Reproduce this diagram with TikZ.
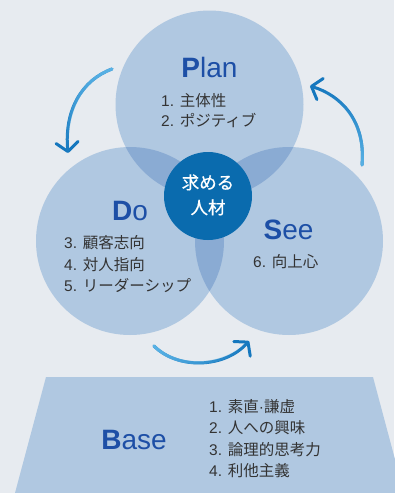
\documentclass[tikz,border=0pt]{standalone}
\usepackage{fontspec}
\setmainfont{Liberation Sans}
\newfontfamily\cjk{Noto Sans CJK JP}
\newfontfamily\cjkmid[FakeBold=0.6]{Noto Sans CJK JP}
\usetikzlibrary{arrows.meta,fadings}
\definecolor{bgcol}{HTML}{E7EBF0}
\definecolor{circcol}{HTML}{B0C8E1}
\definecolor{overcol}{HTML}{8AABD3}
\definecolor{corecol}{HTML}{0A6BAE}
\definecolor{headcol}{HTML}{1D4FA6}
\definecolor{itemcol}{HTML}{333333}
\definecolor{arrdark}{HTML}{1577BE}
\definecolor{arrlight}{HTML}{5AB3E6}
\tikzset{
  bubble/.style={circle, fill=circcol, draw=none, inner sep=0pt, minimum size=188pt},
  core/.style={circle, fill=corecol, draw=none, inner sep=0pt, minimum size=88pt},
  heading/.style={anchor=base, text=headcol, inner sep=0pt, font=\fontsize{28}{30}\selectfont},
  item/.style={anchor=base west, text=itemcol, inner sep=0pt, font=\fontsize{15.5}{18}\selectfont},
  coretext/.style={anchor=base, text=white, inner sep=0pt, font=\cjkmid\fontsize{17.5}{20}\selectfont},
  cycarrow/.style={draw=arrdark, line width=3pt, line cap=round,
     -{Straight Barb[length=9pt,width=22pt,round]}},
  cycfade/.style={draw=arrlight, line width=3pt, line cap=round}
}
\begin{document}
\begin{tikzpicture}[x=1pt,y=-1pt]
\useasboundingbox (0,0) rectangle (394,493);
\fill[bgcol] (0,0) rectangle (394,493);
% base trapezoid
\fill[circcol] (46,377) -- (373,377) -- (404,493) -- (15,493) -- cycle;
% circles
\node[bubble] (plan) at (209.5,104.5) {};
\node[bubble] (do) at (130,241) {};
\node[bubble] (see) at (289,241) {};
\begin{scope}
  \clip (plan.center) circle (94pt);
  \fill[overcol] (do.center) circle (94pt);
  \fill[overcol] (see.center) circle (94pt);
\end{scope}
\begin{scope}
  \clip (do.center) circle (94pt);
  \fill[overcol] (see.center) circle (94pt);
\end{scope}
\node[core] (core) at (208,196) {};
\node[coretext] (core1) at (208,189) {求める};
\node[coretext] (core2) at (208,214) {人材};
% headings
\node[heading] (planh) at (209.5,77) {\textbf{P}lan};
\node[heading] (doh) at (130,220) {\textbf{D}o};
\node[heading] (seeh) at (288.5,239) {\textbf{S}ee};
\node[heading] (baseh) at (134,449) {\textbf{B}ase};
% items
\node[item] (p1) at (161,106) {1. {\cjk 主体性}};
\node[item] (p2) at (161,126) {2. {\cjk ポジティブ}};
\node[item] (d3) at (64,248) {3. {\cjk 顧客志向}};
\node[item] (d4) at (64,270) {4. {\cjk 対人指向}};
\node[item] (d5) at (64,291) {5. {\cjk リーダーシップ}};
\node[item] (s6) at (253,267) {6. {\cjk 向上心}};
\node[item] (b1) at (209,412) {1. {\cjk 素直}·{\cjk 謙虚}};
\node[item] (b2) at (209,433) {2. {\cjk 人への興味}};
\node[item] (b3) at (209,455) {3. {\cjk 論理的思考力}};
\node[item] (b4) at (209,476) {4. {\cjk 利他主義}};
% cycle arrows
\coordinate (a1s) at (112,69);
\coordinate (a1e) at (68,153);
\coordinate (a2s) at (362,165);
\coordinate (a2e) at (310,86);
\coordinate (a3s) at (154,346);
\coordinate (a3e) at (249,341);
\draw[cycarrow] (a1s) .. controls (82,80) and (64,110) .. (a1e);
\draw[cycarrow] (a2s) .. controls (366,120) and (340,95) .. (a2e);
\draw[cycarrow] (a3s) .. controls (178,370) and (225,368) .. (a3e);
\draw[cycfade, path fading=south] (a1s) .. controls (82,80) and (64,110) .. (a1e);
\draw[cycfade, path fading=north] (a2s) .. controls (366,120) and (340,95) .. (a2e);
\draw[cycfade, path fading=east] (a3s) .. controls (178,370) and (225,368) .. (a3e);
\end{tikzpicture}
\end{document}
